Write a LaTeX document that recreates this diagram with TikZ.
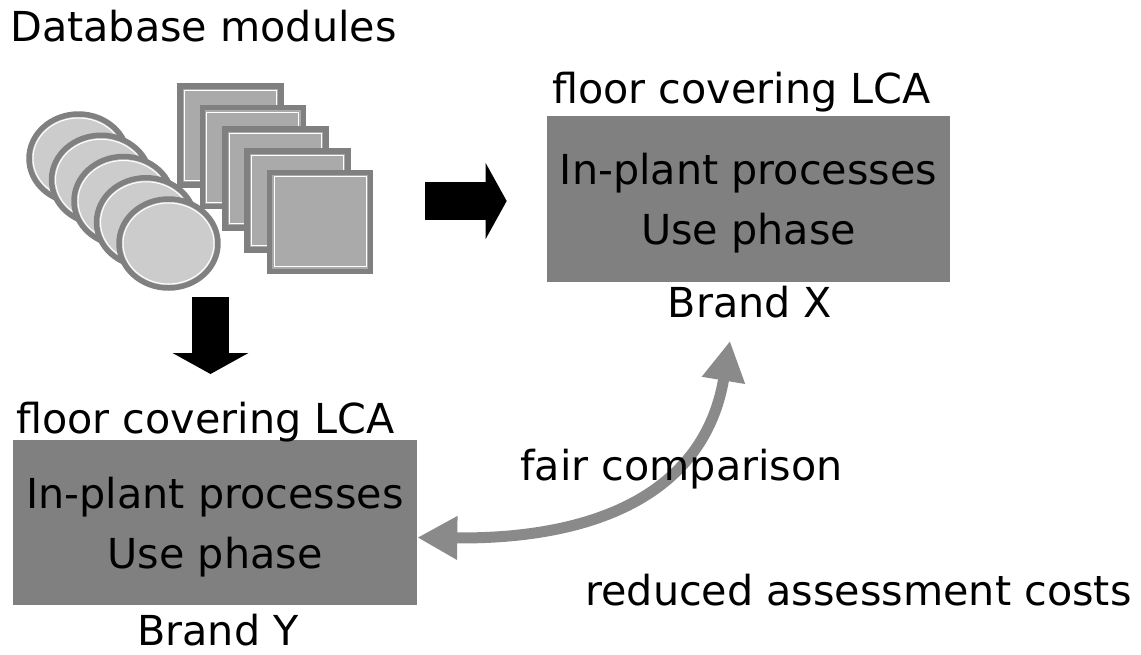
\documentclass[tikz,border=0pt]{standalone}
\usepackage{fontspec}
\setmainfont{DejaVu Sans}
\usepackage{tikz}
\usetikzlibrary{arrows.meta}
\definecolor{rimgray}{HTML}{808080}
\definecolor{discgray}{HTML}{CCCCCC}
\definecolor{sheetgray}{HTML}{AAAAAA}
\definecolor{fairgray}{HTML}{8A8A8A}

\begin{document}
\begin{tikzpicture}[x=0.02cm, y=-0.02cm,
  font=\fontsize{23.5}{34}\selectfont,
  lbl/.style={inner sep=0pt},
  brandbox/.style={fill=rimgray, minimum width=8.06cm, minimum height=3.32cm,
    align=center, inner sep=0pt, text depth=0pt},
  moddisc/.style={draw=rimgray, fill=discgray, line width=0.11cm},
  modsheet/.style={draw=rimgray, fill=sheetgray, line width=0.11cm},
  blockarrow/.style={line width=0.75cm, -{Triangle[length=0.42cm,width=1.5cm]}},
  fairarrow/.style={draw=fairgray, line width=0.22cm,
    {Triangle[length=0.8cm,width=0.82cm]}-{Triangle[length=0.8cm,width=0.82cm]}}]
\useasboundingbox (0,0) rectangle (1141,654);
% Database modules
\node[lbl, anchor=base west] (dbtitle) at (10,41) {Database modules};
\foreach \i in {0,...,4}{
\filldraw[modsheet] (180+22.4*\i,86+21.6*\i) rectangle ++(101,99);
\draw[white, line width=0.6pt] (184.5+22.4*\i,90.5+21.6*\i) rectangle ++(92,90);
}
\foreach \i in {0,...,4}{
\filldraw[moddisc] (78.5+22.5*\i,158.5+21.25*\i) ellipse [x radius=0.99cm, y radius=0.89cm];
\draw[white, line width=0.6pt] (78.5+22.5*\i,158.5+21.25*\i) ellipse [x radius=0.91cm, y radius=0.81cm];
}
\coordinate (modsE) at (425,201);
\coordinate (modsS) at (210.5,297);
% Brand X
\node[brandbox] (boxX) at (748.5,199) {In-plant processes\\Use phase};
\node[lbl, anchor=base west] (lcaX) at (552,103) {floor covering LCA};
\node[lbl, anchor=base] (brandX) at (750,317) {Brand X};
% Brand Y
\node[brandbox, minimum width=8.08cm, minimum height=3.3cm] (boxY) at (215,522.5) {In-plant processes\\Use phase};
\node[lbl, anchor=base west] (lcaY) at (16,433) {floor covering LCA};
\node[lbl, anchor=base] (brandY) at (218,645) {Brand Y};
% Arrows
\draw[blockarrow] (modsE) -- ([xshift=-0.8cm]boxX.west |- modsE);
\draw[blockarrow] (modsS) -- ++(0,77);
\draw[fairarrow] ([yshift=-0.3cm]boxY.east) .. controls +(182,2) and +(-25,150) .. ([xshift=-0.4cm,yshift=-0.46cm]brandX.south);
\node[lbl, anchor=base west] (fair) at (520,480) {fair comparison};
\node[lbl, anchor=base west] (costs) at (585,605) {reduced assessment costs};
\end{tikzpicture}
\end{document}
